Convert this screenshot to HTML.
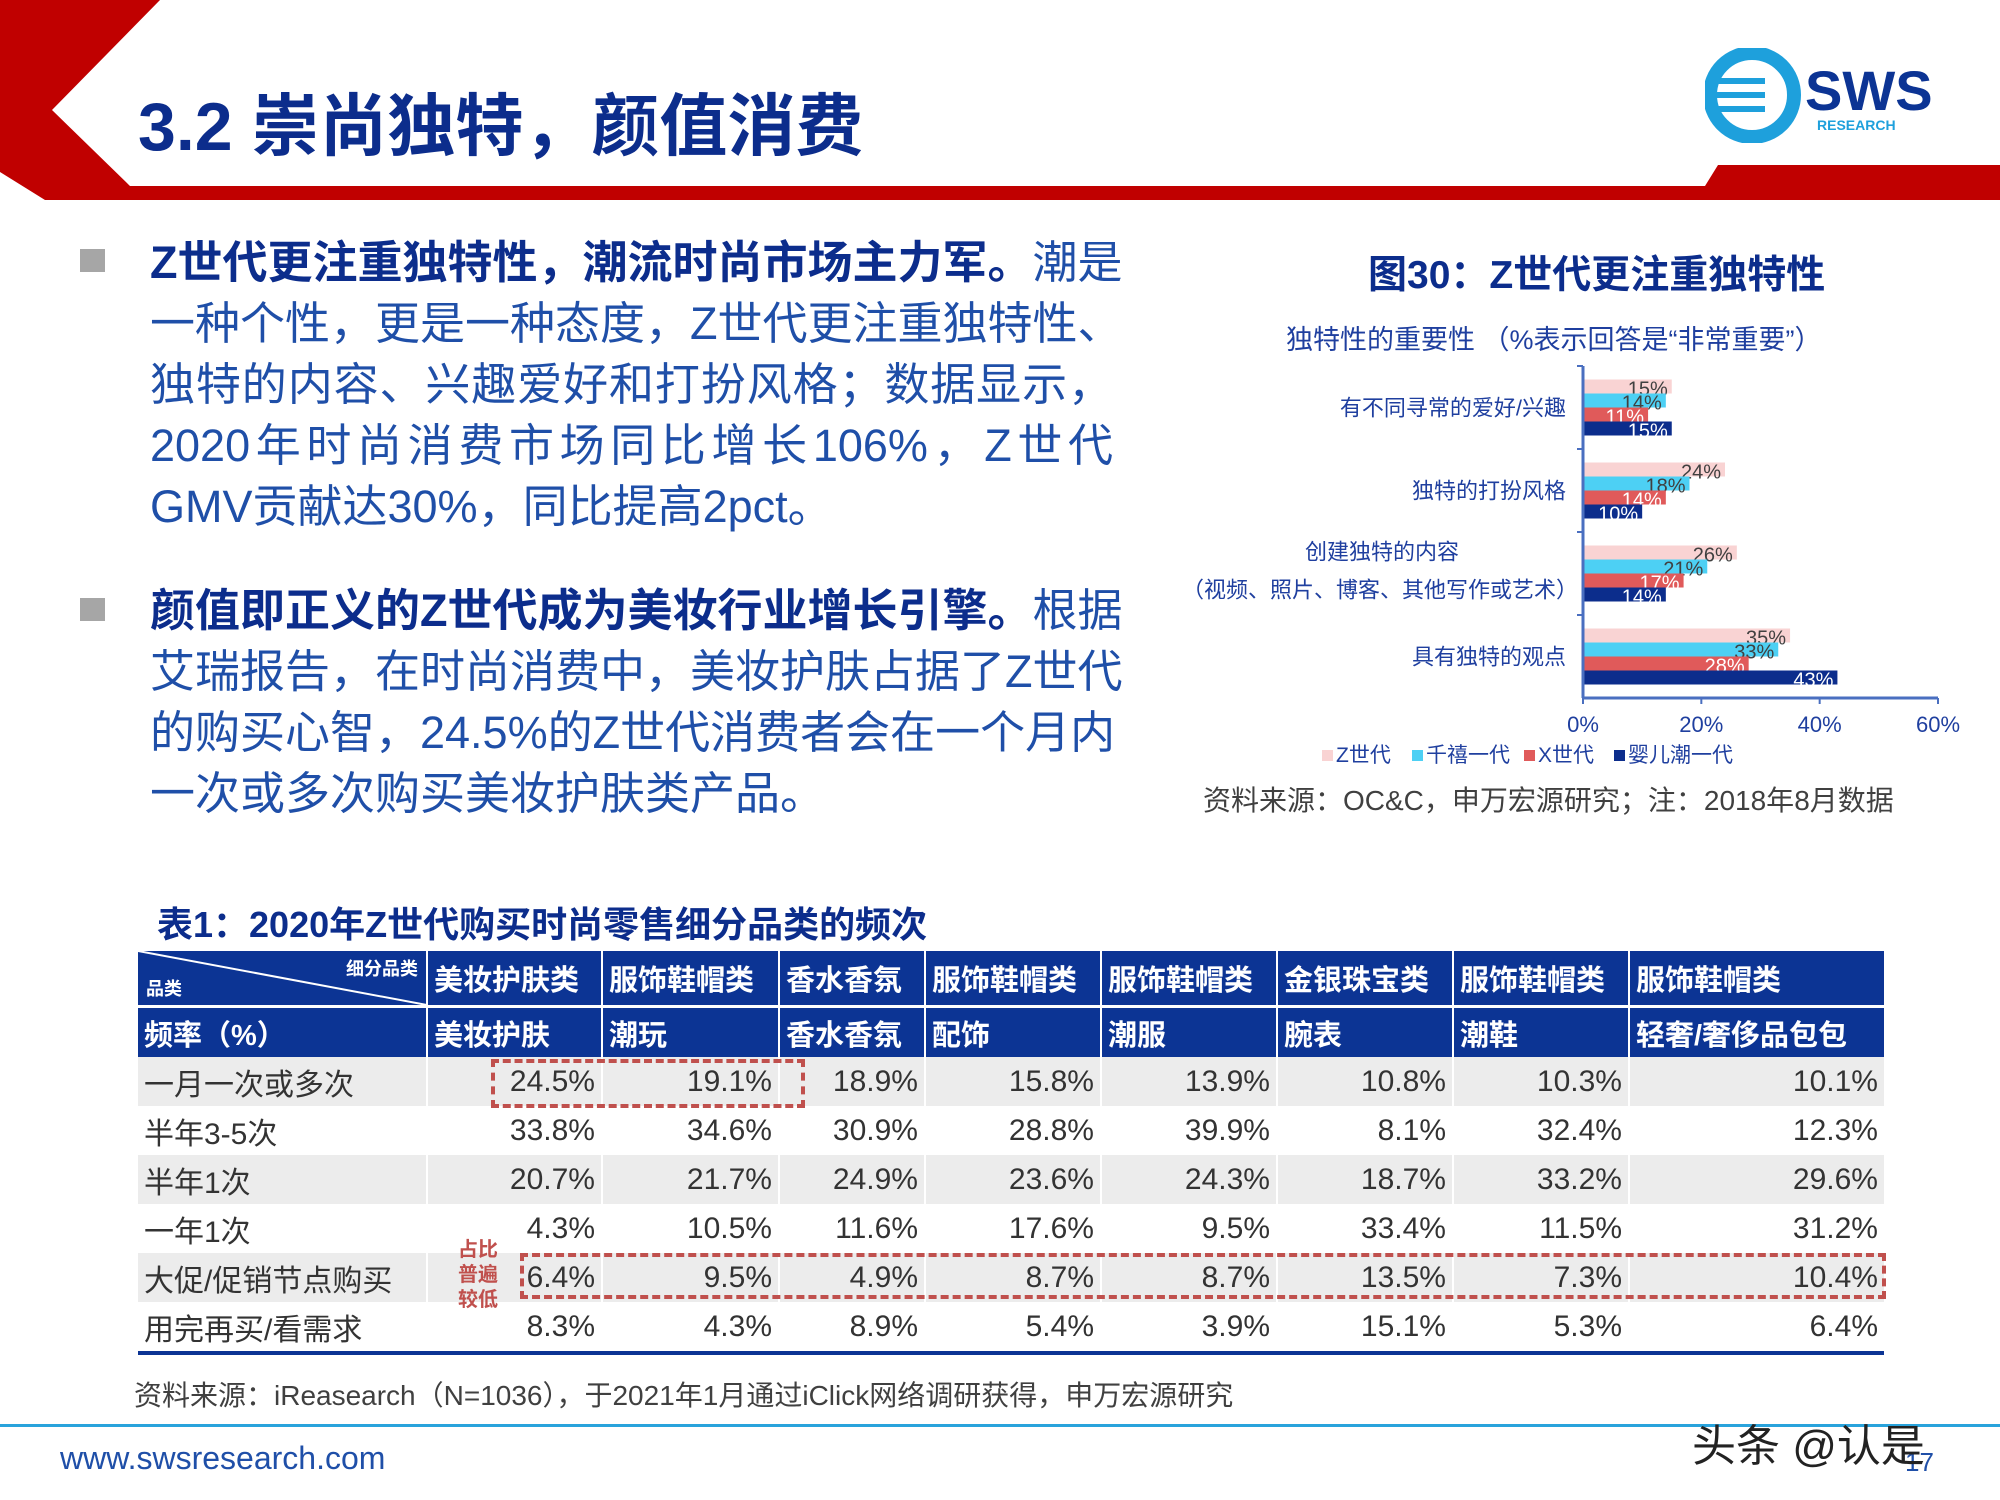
<!DOCTYPE html>
<html><head><meta charset="utf-8"><style>
body{margin:0;width:2000px;height:1500px;position:relative;background:#fff;overflow:hidden;font-family:"Liberation Sans","Noto Sans CJK SC",sans-serif;}
.abs{position:absolute;white-space:nowrap;}
.bul{position:absolute;width:25px;height:23px;background:#a6a6a6;}
.txt{position:absolute;left:150px;font-size:45px;color:#1f4fa8;line-height:61px;width:963px;}
.txt div{white-space:nowrap;text-align:justify;text-align-last:justify;}
.txt div.l{text-align-last:left;}
.txt b{color:#0c2d8c;}
table{position:absolute;left:138px;top:951px;border-collapse:collapse;font-size:30px;table-layout:fixed;}
td{padding:0 6px;height:49px;border-left:2px solid #fff;color:#333;text-align:right;}
td:first-child{text-align:left;border-left:none}
tr.g td{background:#ececec}
tr.h td{background:#0c3494;color:#fff;font-weight:bold;font-size:29px;text-align:left;}
</style></head><body>
<svg class="abs" style="left:0;top:0" width="2000" height="210">
<polygon points="0,0 160,0 52,110 130,186 1705,186 1718,165 2000,165 2000,200 45,200 0,172" fill="#c00000"/>
</svg>
<div class="abs" style="left:138px;top:71px;font-size:68px;font-weight:bold;color:#0c2d8c;">3.2 崇尚独特，颜值消费</div>
<svg class="abs" style="left:1705px;top:48px" width="250" height="95">
<circle cx="47" cy="47" r="42" fill="none" stroke="#1ea0dc" stroke-width="14"/>
<rect x="10" y="30" width="50" height="6" fill="#1ea0dc"/><rect x="10" y="44" width="50" height="6" fill="#1ea0dc"/><rect x="10" y="58" width="50" height="6" fill="#1ea0dc"/>
<text x="100" y="62" font-size="56" font-weight="bold" fill="#0c3494" font-family="Liberation Sans">SWS</text>
<text x="112" y="82" font-size="14" font-weight="bold" fill="#1ea0dc" font-family="Liberation Sans">RESEARCH</text>
</svg>

<div class="bul" style="left:80px;top:249px"></div>
<div class="txt" style="top:232px">
<div><b>Z世代更注重独特性，潮流时尚市场主力军。</b>潮是</div>
<div>一种个性，更是一种态度，Z世代更注重独特性、</div>
<div>独特的内容、兴趣爱好和打扮风格；数据显示，</div>
<div>2020年时尚消费市场同比增长106%，Z世代</div>
<div class="l">GMV贡献达30%，同比提高2pct。</div>
</div>
<div class="bul" style="left:80px;top:598px"></div>
<div class="txt" style="top:580px">
<div><b>颜值即正义的Z世代成为美妆行业增长引擎。</b>根据</div>
<div>艾瑞报告，在时尚消费中，美妆护肤占据了Z世代</div>
<div>的购买心智，24.5%的Z世代消费者会在一个月内</div>
<div class="l">一次或多次购买美妆护肤类产品。</div>
</div>

<div class="abs" style="left:1368px;top:244px;font-size:39px;font-weight:bold;color:#0c2d8c;">图30：Z世代更注重独特性</div>
<div class="abs" style="left:1286px;top:318px;font-size:27px;color:#1f3f9f;">独特性的重要性 （%表示回答是“非常重要”）</div>
<svg id="chart" class="abs" style="left:1150px;top:340px" width="850" height="440"></svg>
<div class="abs" style="left:1203px;top:779px;font-size:28px;color:#404040;">资料来源：OC&amp;C，申万宏源研究；注：2018年8月数据</div>

<div class="abs" style="left:157px;top:896px;font-size:36px;font-weight:bold;color:#0c2d8c;">表1：2020年Z世代购买时尚零售细分品类的频次</div>
<table>
<colgroup><col style="width:289px"><col style="width:175px"><col style="width:177px"><col style="width:146px"><col style="width:176px"><col style="width:176px"><col style="width:176px"><col style="width:176px"><col style="width:255px"></colgroup>
<tr class="h" style="height:54px"><td style="position:relative;height:54px"><svg style="position:absolute;left:0;top:0" width="289" height="54"><line x1="0" y1="0" x2="289" y2="54" stroke="#fff" stroke-width="2"/></svg><span style="position:absolute;left:8px;bottom:4px;font-size:18px">品类</span><span style="position:absolute;right:8px;top:4px;font-size:18px">细分品类</span></td><td>美妆护肤类</td><td>服饰鞋帽类</td><td>香水香氛</td><td>服饰鞋帽类</td><td>服饰鞋帽类</td><td>金银珠宝类</td><td>服饰鞋帽类</td><td>服饰鞋帽类</td></tr>
<tr class="h" style="border-top:3px solid #fff"><td>频率（%）</td><td>美妆护肤</td><td>潮玩</td><td>香水香氛</td><td>配饰</td><td>潮服</td><td>腕表</td><td>潮鞋</td><td>轻奢/奢侈品包包</td></tr>
<tr class="g"><td>一月一次或多次</td><td>24.5%</td><td>19.1%</td><td>18.9%</td><td>15.8%</td><td>13.9%</td><td>10.8%</td><td>10.3%</td><td>10.1%</td></tr>
<tr><td>半年3-5次</td><td>33.8%</td><td>34.6%</td><td>30.9%</td><td>28.8%</td><td>39.9%</td><td>8.1%</td><td>32.4%</td><td>12.3%</td></tr>
<tr class="g"><td>半年1次</td><td>20.7%</td><td>21.7%</td><td>24.9%</td><td>23.6%</td><td>24.3%</td><td>18.7%</td><td>33.2%</td><td>29.6%</td></tr>
<tr><td>一年1次</td><td>4.3%</td><td>10.5%</td><td>11.6%</td><td>17.6%</td><td>9.5%</td><td>33.4%</td><td>11.5%</td><td>31.2%</td></tr>
<tr class="g"><td>大促/促销节点购买</td><td>6.4%</td><td>9.5%</td><td>4.9%</td><td>8.7%</td><td>8.7%</td><td>13.5%</td><td>7.3%</td><td>10.4%</td></tr>
<tr style="border-bottom:4px solid #0c3494"><td>用完再买/看需求</td><td>8.3%</td><td>4.3%</td><td>8.9%</td><td>5.4%</td><td>3.9%</td><td>15.1%</td><td>5.3%</td><td>6.4%</td></tr>
</table>
<div class="abs" style="left:491px;top:1059px;width:314px;height:49px;border:4px dashed #c0504d;box-sizing:border-box"></div>
<div class="abs" style="left:520px;top:1253px;width:1366px;height:46px;border:4px dashed #c0504d;box-sizing:border-box"></div>
<div class="abs" style="left:455px;top:1238px;font-size:20px;line-height:25px;color:#c0504d;font-weight:bold;white-space:normal;width:46px;text-align:center">占比普遍较低</div>
<div class="abs" style="left:134px;top:1374px;font-size:28px;color:#404040;">资料来源：iReasearch（N=1036），于2021年1月通过iClick网络调研获得，申万宏源研究</div>
<div class="abs" style="left:0;top:1424px;width:2000px;height:3px;background:#29a3dc"></div>
<div class="abs" style="left:60px;top:1440px;font-size:32px;color:#1f4fa8;">www.swsresearch.com</div>
<div class="abs" style="left:1905px;top:1447px;font-size:26px;color:#1f4fa8;">17</div>
<div class="abs" style="left:1692px;top:1410px;font-size:44px;color:#222;">头条 @认是</div>

<script>
const categories=["有不同寻常的爱好/兴趣","独特的打扮风格","创建独特的内容","具有独特的观点"];
const seriesNames=["Z世代","千禧一代","X世代","婴儿潮一代"];
const zGen=[15,24,26,35];
const millennial=[14,18,21,33];
const xGen=[11,14,17,28];
const boomer=[15,10,14,43];
const ticks=[0,20,40,60];
const series=[zGen,millennial,xGen,boomer];
const colors=["#f9d3d3","#4dd0f4","#e05a5a","#0c2d8c"];
const labelColors=["#404040","#404040","#fff","#fff"];
const svg=document.getElementById('chart');
const NS="http://www.w3.org/2000/svg";
const x0=433,x1=788,yTop=26,yBot=358;
const xs=v=>x0+(x1-x0)*v/60;
const band=(yBot-yTop)/categories.length;
function mk(t,a,txt){const e=document.createElementNS(NS,t);for(const k in a)e.setAttribute(k,a[k]);if(txt!==undefined)e.textContent=txt;svg.appendChild(e);return e;}
const bh=14;
categories.forEach((c,i)=>{
  const cy=yTop+band*(i+0.5);
  series.forEach((s,j)=>{
    const y=cy-2*bh+j*bh;
    const r=mk('rect',{x:x0,y:y,width:xs(s[i])-x0,height:bh,fill:colors[j]});
    
    
    const t=mk('text',{x:xs(s[i])-4,y:y+bh+2,'text-anchor':'end','font-size':20,fill:labelColors[j],'font-family':'Liberation Sans'},s[i]+'%');
    
    
  });
  const lines=i===2?["创建独特的内容","（视频、照片、博客、其他写作或艺术）"]:[c];
  lines.forEach((l,k)=>{
    const ly=i===2?cy-14+k*38:cy+8;
    const anchor=(i===2)?'middle':'end';
    const lx=(i===2)?(k===0?232:230):416;
    const t=mk('text',{x:lx,y:ly,'text-anchor':anchor,'font-size':22,fill:'#1f3f9f','font-family':'Liberation Sans, Noto Sans CJK SC, sans-serif'},l);
    
    
  });
  mk('line',{x1:x0-6,x2:x0,y1:yTop+band*i,y2:yTop+band*i,stroke:'#4a6fc0','stroke-width':2});
});
mk('line',{x1:x0,x2:x0,y1:yTop,y2:yBot,stroke:'#4a6fc0','stroke-width':3});
mk('line',{x1:x0,x2:x1,y1:yBot,y2:yBot,stroke:'#4a6fc0','stroke-width':3});
ticks.forEach(t=>{
  mk('line',{x1:xs(t),x2:xs(t),y1:yBot,y2:yBot+6,stroke:'#4a6fc0','stroke-width':2});
  const e=mk('text',{x:xs(t),y:yBot+34,'text-anchor':'middle','font-size':22,fill:'#1f3f9f','font-family':'Liberation Sans'},t+'%');
  
  
});
let lx=172;
const lw=[90,112,90,140];
seriesNames.forEach((n,j)=>{
  mk('rect',{x:lx,y:410,width:11,height:11,fill:colors[j]});
  const e=mk('text',{x:lx+14,y:422,'font-size':21,fill:'#1f3f9f','font-family':'Liberation Sans, Noto Sans CJK SC, sans-serif'},n);
  
  
  lx+=lw[j];
});
</script>
</body></html>
